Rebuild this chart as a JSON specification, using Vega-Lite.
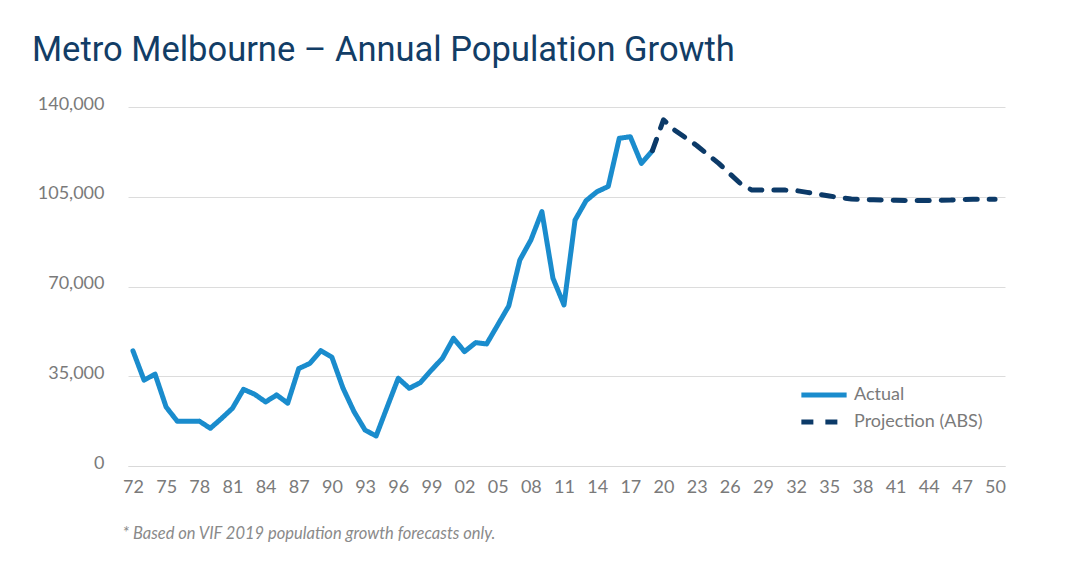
{
  "$schema": "https://vega.github.io/schema/vega-lite/v6.json",
  "width": 877,
  "height": 359,
  "autosize": "none",
  "padding": {"left": 128, "top": 107, "right": 75, "bottom": 106},
  "background": "white",
  "title": {
    "text": "Metro Melbourne – Annual Population Growth",
    "anchor": "start",
    "frame": "group",
    "dx": -96,
    "offset": 27,
    "font": "Roboto",
    "fontSize": 34.5,
    "fontWeight": "normal",
    "color": "#123d66"
  },
  "data": {
    "values": [
      {"year": 1972, "value": 44900, "series": "Actual"},
      {"year": 1973, "value": 33500, "series": "Actual"},
      {"year": 1974, "value": 35800, "series": "Actual"},
      {"year": 1975, "value": 23000, "series": "Actual"},
      {"year": 1976, "value": 17500, "series": "Actual"},
      {"year": 1977, "value": 17500, "series": "Actual"},
      {"year": 1978, "value": 17500, "series": "Actual"},
      {"year": 1979, "value": 14700, "series": "Actual"},
      {"year": 1980, "value": 18500, "series": "Actual"},
      {"year": 1981, "value": 22500, "series": "Actual"},
      {"year": 1982, "value": 29900, "series": "Actual"},
      {"year": 1983, "value": 28000, "series": "Actual"},
      {"year": 1984, "value": 25000, "series": "Actual"},
      {"year": 1985, "value": 27700, "series": "Actual"},
      {"year": 1986, "value": 24500, "series": "Actual"},
      {"year": 1987, "value": 38000, "series": "Actual"},
      {"year": 1988, "value": 40000, "series": "Actual"},
      {"year": 1989, "value": 45000, "series": "Actual"},
      {"year": 1990, "value": 42400, "series": "Actual"},
      {"year": 1991, "value": 30400, "series": "Actual"},
      {"year": 1992, "value": 21200, "series": "Actual"},
      {"year": 1993, "value": 14000, "series": "Actual"},
      {"year": 1994, "value": 11700, "series": "Actual"},
      {"year": 1995, "value": 23000, "series": "Actual"},
      {"year": 1996, "value": 34200, "series": "Actual"},
      {"year": 1997, "value": 30300, "series": "Actual"},
      {"year": 1998, "value": 32500, "series": "Actual"},
      {"year": 1999, "value": 37400, "series": "Actual"},
      {"year": 2000, "value": 42000, "series": "Actual"},
      {"year": 2001, "value": 49800, "series": "Actual"},
      {"year": 2002, "value": 44600, "series": "Actual"},
      {"year": 2003, "value": 48100, "series": "Actual"},
      {"year": 2004, "value": 47600, "series": "Actual"},
      {"year": 2005, "value": 55000, "series": "Actual"},
      {"year": 2006, "value": 62400, "series": "Actual"},
      {"year": 2007, "value": 80300, "series": "Actual"},
      {"year": 2008, "value": 88100, "series": "Actual"},
      {"year": 2009, "value": 99200, "series": "Actual"},
      {"year": 2010, "value": 73200, "series": "Actual"},
      {"year": 2011, "value": 62800, "series": "Actual"},
      {"year": 2012, "value": 95900, "series": "Actual"},
      {"year": 2013, "value": 103500, "series": "Actual"},
      {"year": 2014, "value": 107000, "series": "Actual"},
      {"year": 2015, "value": 109000, "series": "Actual"},
      {"year": 2016, "value": 127800, "series": "Actual"},
      {"year": 2017, "value": 128400, "series": "Actual"},
      {"year": 2018, "value": 118000, "series": "Actual"},
      {"year": 2019, "value": 123000, "series": "Actual"},
      {"year": 2019, "value": 123000, "series": "Projection (ABS)"},
      {"year": 2020, "value": 135000, "series": "Projection (ABS)"},
      {"year": 2021, "value": 131000, "series": "Projection (ABS)"},
      {"year": 2022, "value": 128000, "series": "Projection (ABS)"},
      {"year": 2023, "value": 125000, "series": "Projection (ABS)"},
      {"year": 2024, "value": 121500, "series": "Projection (ABS)"},
      {"year": 2025, "value": 118000, "series": "Projection (ABS)"},
      {"year": 2026, "value": 114000, "series": "Projection (ABS)"},
      {"year": 2027, "value": 110000, "series": "Projection (ABS)"},
      {"year": 2028, "value": 107600, "series": "Projection (ABS)"},
      {"year": 2029, "value": 107600, "series": "Projection (ABS)"},
      {"year": 2030, "value": 107600, "series": "Projection (ABS)"},
      {"year": 2031, "value": 107600, "series": "Projection (ABS)"},
      {"year": 2032, "value": 107400, "series": "Projection (ABS)"},
      {"year": 2033, "value": 106700, "series": "Projection (ABS)"},
      {"year": 2034, "value": 106000, "series": "Projection (ABS)"},
      {"year": 2035, "value": 105300, "series": "Projection (ABS)"},
      {"year": 2036, "value": 104600, "series": "Projection (ABS)"},
      {"year": 2037, "value": 104100, "series": "Projection (ABS)"},
      {"year": 2038, "value": 103900, "series": "Projection (ABS)"},
      {"year": 2039, "value": 103800, "series": "Projection (ABS)"},
      {"year": 2040, "value": 103700, "series": "Projection (ABS)"},
      {"year": 2041, "value": 103600, "series": "Projection (ABS)"},
      {"year": 2042, "value": 103500, "series": "Projection (ABS)"},
      {"year": 2043, "value": 103500, "series": "Projection (ABS)"},
      {"year": 2044, "value": 103500, "series": "Projection (ABS)"},
      {"year": 2045, "value": 103600, "series": "Projection (ABS)"},
      {"year": 2046, "value": 103700, "series": "Projection (ABS)"},
      {"year": 2047, "value": 103900, "series": "Projection (ABS)"},
      {"year": 2048, "value": 104000, "series": "Projection (ABS)"},
      {"year": 2049, "value": 104000, "series": "Projection (ABS)"},
      {"year": 2050, "value": 104000, "series": "Projection (ABS)"}
    ]
  },
  "mark": {"type": "line", "strokeWidth": 5, "strokeCap": "round", "strokeJoin": "round"},
  "encoding": {
    "x": {
      "field": "year",
      "type": "quantitative",
      "scale": {"domain": [1971.55, 2050.9], "nice": false, "zero": false},
      "axis": {
        "values": [1972, 1975, 1978, 1981, 1984, 1987, 1990, 1993, 1996, 1999, 2002, 2005, 2008, 2011, 2014, 2017, 2020, 2023, 2026, 2029, 2032, 2035, 2038, 2041, 2044, 2047, 2050],
        "labelExpr": "substring(toString(datum.value), 2)",
        "labelOverlap": false,
        "labelFlush": false,
        "grid": false,
        "ticks": false,
        "domain": true,
        "domainColor": "#d9d9d9",
        "domainWidth": 1,
        "labelPadding": 12,
        "labelFont": "Lato",
        "labelFontSize": 18,
        "labelColor": "#7a7a7a",
        "title": "* Based on VIF 2019 population growth forecasts only.",
        "titleX": -6,
        "titleY": 67,
        "titleAlign": "left",
        "titleAnchor": "start",
        "titleBaseline": "middle",
        "titleFont": "Lato",
        "titleFontSize": 16.5,
        "titleFontStyle": "italic",
        "titleFontWeight": "normal",
        "titleColor": "#8a8a8a"
      }
    },
    "y": {
      "field": "value",
      "type": "quantitative",
      "scale": {"domain": [0, 140000], "nice": false},
      "axis": {
        "values": [0, 35000, 70000, 105000, 140000],
        "format": ",d",
        "grid": true,
        "gridColor": "#dcdcdc",
        "gridWidth": 1,
        "domain": false,
        "ticks": false,
        "labelPadding": 24,
        "labelFont": "Lato",
        "labelFontSize": 18,
        "labelColor": "#7a7a7a",
        "labelOffset": -3,
        "title": null
      }
    },
    "color": {
      "field": "series",
      "type": "nominal",
      "scale": {"domain": ["Actual", "Projection (ABS)"], "range": ["#1a8ccd", "#0c3a68"]},
      "legend": {
        "title": null,
        "orient": "none",
        "legendX": 679,
        "legendY": 271,
        "symbolType": "M-1.6,0H1.6",
        "symbolSize": 800,
        "symbolStrokeWidth": 5,
        "labelFont": "Lato",
        "labelFontSize": 18,
        "labelColor": "#7a7a7a",
        "labelOffset": 13,
        "rowPadding": 0
      }
    },
    "strokeDash": {
      "field": "series",
      "type": "nominal",
      "scale": {"domain": ["Actual", "Projection (ABS)"], "range": [[1, 0], [12, 12]]},
      "legend": {
        "title": null,
        "orient": "none",
        "legendX": 679,
        "legendY": 271,
        "symbolType": "M-1.6,0H1.6",
        "symbolSize": 800,
        "symbolStrokeWidth": 5,
        "labelFont": "Lato",
        "labelFontSize": 18,
        "labelColor": "#7a7a7a",
        "labelOffset": 13,
        "rowPadding": 0
      }
    }
  },
  "config": {"view": {"stroke": null}}
}
